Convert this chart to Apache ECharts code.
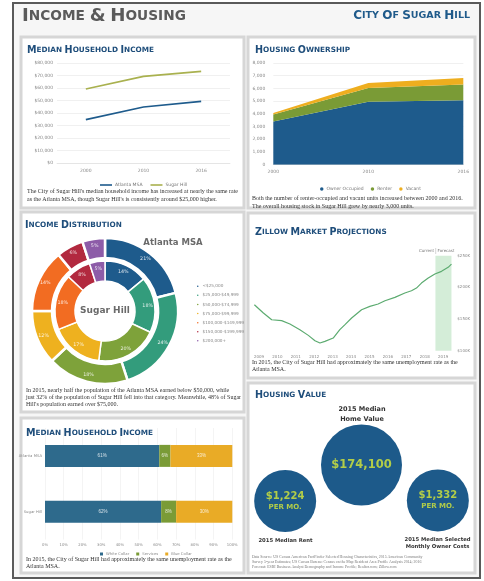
<!DOCTYPE html>
<html><head><meta charset="utf-8">
<script src="https://cdn.jsdelivr.net/npm/echarts@6/dist/echarts.min.js"></script>
<style>html,body{margin:0;padding:0;background:#fff}#c{width:484px;height:581px}</style>
</head><body><div id="c"></div><script>
// ---------- DATA ----------
const incomeYears = ['2000', '2010', '2016'];
const incomeAtlanta = [34700, 44800, 49300];
const incomeSugarHill = [59200, 69300, 73300];

const housingYears = ['2000', '2010', '2016'];
const ownerOccupied = [3400, 4950, 5070];
const renterOccupied = [540, 1090, 1230];
const vacantUnits = [130, 390, 520];

const incomeBrackets = ['<$25,000', '$25,000-$49,999', '$50,000-$74,999', '$75,000-$99,999', '$100,000-$149,999', '$150,000-$199,999', '$200,000+'];
const sugarHillDist = [14, 18, 20, 17, 18, 8, 5];
const atlantaDist = [21, 24, 18, 12, 14, 6, 5];

const workerAreas = ['Atlanta MSA', 'Sugar Hill'];
const workerGroups = ['White Collar', 'Services', 'Blue Collar'];
const whiteCollar = [61, 62];
const services = [6, 8];
const blueCollar = [33, 30];

const zillowYears = [2008.75, 2009.24, 2009.69, 2010.23, 2010.68, 2011.22, 2011.68, 2012.04, 2012.31, 2012.58, 2013.03, 2013.39, 2013.67, 2014.03, 2014.57, 2015.02, 2015.47, 2015.84, 2016.38, 2016.92, 2017.28, 2017.55, 2017.82, 2018.19, 2018.55, 2018.64, 2018.91, 2019.27, 2019.45];
const zillowValues = [172600, 159500, 148900, 147400, 142100, 133200, 124200, 115800, 112100, 114700, 120000, 133200, 141100, 151600, 164700, 170000, 173700, 178900, 184200, 191100, 194700, 198900, 206800, 214700, 221100, 220000, 225300, 231600, 236800];
const zillowYearTicks = [2009, 2010, 2011, 2012, 2013, 2014, 2015, 2016, 2017, 2018, 2019];
const forecastRange = [2018.58, 2019.45];

const housingValueNames = ['2015 Median Rent', '2015 Median Home Value', '2015 Median Selected Monthly Owner Costs'];
const housingValues = [1224, 174100, 1332];

// ---------- STYLE ----------
const BLUE = '#1e5b8c', TEAL = '#339c7c', OLIVE = '#7ea23a', YEL = '#eeb11f', ORG = '#f26c22', RED = '#b2293f', PUR = '#8d5ca8';
const TITLE_BLUE = '#1f4e7b';
const SERIF = '"Liberation Serif", serif';
const SANS = '"DejaVu Sans", sans-serif';
const AX = {fontSize: 4.5, color: '#888', fontFamily: SANS};

function sc(s, big, small, color) {
  const txt = s.split(' ').map(w => w.length === 1 ? '{b|' + w + '}' : '{b|' + w[0].toUpperCase() + '}{s|' + w.slice(1).toUpperCase() + '}').join('{s| }');
  return {text: txt, rich: {
    b: {fontSize: big, fontWeight: 'bold', fontFamily: SANS, fill: color},
    s: {fontSize: small, fontWeight: 'bold', fontFamily: SANS, fill: color}
  }};
}
function ttl(s, x, y, big, small, color, align) {
  const st = sc(s, big, small, color || TITLE_BLUE);
  st.align = align || 'left'; st.verticalAlign = 'middle';
  return {type: 'text', x: x, y: y, z: 100, style: st};
}
function body(lines, x, y, size, lh, color, font) {
  return {type: 'text', x: x, y: y, z: 100, style: {text: lines.join('\n'), fill: color || '#333', font: (size || 6) + 'px ' + (font || SERIF), lineHeight: lh || 7.6, align: 'left', verticalAlign: 'top'}};
}
function panel(x, y, w, h) {
  return {type: 'rect', z: 0, shape: {x: x, y: y, width: w, height: h}, style: {fill: '#fff', stroke: '#d6d6d6', lineWidth: 3}};
}

const graphics = [
  {type: 'rect', z: 0, shape: {x: 13, y: 3, width: 467, height: 575}, style: {fill: '#f6f6f6', stroke: '#5a5a5a', lineWidth: 2}},
  panel(21, 37, 223, 171), panel(248, 37, 227, 171),
  panel(21, 212, 223, 200), panel(21, 418, 223, 155),
  panel(248, 213, 227, 165), panel(248, 383, 227, 190),
  ttl('Income & Housing', 22, 16, 18.2, 13.7, '#5a5a5a'),
  ttl('City of sugar hill', 470, 16, 12, 9.5, '#1f5a8a', 'right'),
  ttl('Median Household Income', 27, 50, 9.6, 7.3),
  ttl('Housing Ownership', 255, 50, 9.6, 7.3),
  ttl('Income Distribution', 25, 225, 9.6, 7.3),
  ttl('Median Household Income', 26, 433, 9.6, 7.3),
  ttl('Zillow Market Projections', 255, 232, 9.6, 7.3),
  ttl('Housing Value', 255, 395, 9.6, 7.3),
  body(["The City of Sugar Hill's median household income has increased at nearly the same rate", "as the Atlanta MSA, though Sugar Hill's is consistently around $25,000 higher."], 27, 188),
  body(["Both the number of renter-occupied and vacant units increased between 2000 and 2016.", "The overall housing stock in Sugar Hill grew by nearly 3,000 units."], 252, 195),
  body(["In 2015, nearly half the population of the Atlanta MSA earned below $50,000, while", "just 32% of the population of Sugar Hill fell into that category. Meanwhile, 48% of Sugar", "Hill's population earned over $75,000."], 26, 387, 6, 6.8),
  body(["In 2015, the City of Sugar Hill had approximately the same unemployment rate as the", "Atlanta MSA."], 26, 556, 6, 6.8),
  body(["In 2015, the City of Sugar Hill had approximately the same unemployment rate as the", "Atlanta MSA."], 252, 359, 6, 6.8),
  body(["Data Source: US Census American FactFinder Selected Housing Characteristics, 2015 American Community", "Survey 5-year Estimates; US Census Bureau: Census on the Map Resident Area Profile Analysis 2014; 2016", "Forecast: ESRI Business Analyst Demography and Income Profile; Realtor.com; Zillow.com"], 252, 554, 3.9, 5, '#777'),
  {type: 'text', x: 105, y: 311, z: 100, style: {text: 'Sugar Hill', font: 'bold 9px ' + SANS, fill: '#6a6a6a', align: 'center', verticalAlign: 'middle'}},
  {type: 'text', x: 173, y: 243, z: 100, style: {text: 'Atlanta MSA', font: 'bold 8.5px ' + SANS, fill: '#6a6a6a', align: 'center', verticalAlign: 'middle'}},
  {type: 'text', x: 434, y: 251, z: 100, style: {text: 'Current', font: '4px ' + SANS, fill: '#777', align: 'right', verticalAlign: 'middle'}},
  {type: 'text', x: 437.5, y: 251, z: 100, style: {text: 'Forecast', font: '4px ' + SANS, fill: '#777', align: 'left', verticalAlign: 'middle'}},
  {type: 'line', z: 100, shape: {x1: 435.7, y1: 248, x2: 435.7, y2: 254}, style: {stroke: '#aaa', lineWidth: 0.5}},
  {type: 'text', x: 362, y: 414.5, z: 100, style: {text: '2015 Median\nHome Value', font: 'bold 6.5px ' + SANS, lineHeight: 10, fill: '#333', align: 'center', verticalAlign: 'middle'}},
  {type: 'text', x: 285.5, y: 541, z: 100, style: {text: housingValueNames[0], font: 'bold 5.3px ' + SANS, fill: '#333', align: 'center', verticalAlign: 'middle'}},
  {type: 'text', x: 437.5, y: 543.5, z: 100, style: {text: '2015 Median Selected\nMonthly Owner Costs', font: 'bold 5.3px ' + SANS, lineHeight: 7, fill: '#333', align: 'center', verticalAlign: 'middle'}}
];

const splitL = {show: true, lineStyle: {color: '#e6e6e6', width: 0.6}};
const noLine = {show: false};

const option = {
  animation: false,
  backgroundColor: '#fff',
  graphic: {elements: graphics},
  grid: [
    {left: 57, right: 254, top: 63, bottom: 418},
    {left: 273.3, right: 20.7, top: 63, bottom: 416.3},
    {left: 45, right: 251.7, top: 428, bottom: 41.5},
    {left: 254, right: 30.7, top: 255.7, bottom: 230.3},
    {left: 247, right: 8, top: 435.6, bottom: 61.8}
  ],
  xAxis: [
    {gridIndex: 0, type: 'category', data: incomeYears, boundaryGap: true, axisLine: {lineStyle: {color: '#ddd', width: 0.6}}, axisTick: noLine, axisLabel: Object.assign({margin: 5}, AX)},
    {gridIndex: 1, type: 'category', data: housingYears, boundaryGap: false, axisLine: {lineStyle: {color: '#ccc', width: 0.6}}, axisTick: noLine, axisLabel: Object.assign({margin: 5}, AX)},
    {gridIndex: 2, type: 'value', min: 0, max: 100, interval: 10, axisLine: noLine, axisTick: noLine, splitLine: {show: true, lineStyle: {color: '#ededed', width: 0.6}}, axisLabel: Object.assign({margin: 3.5, formatter: v => v + '%'}, AX, {fontSize: 3.8})},
    {gridIndex: 3, type: 'value', min: 2008.73, max: 2019.55, axisLine: noLine, axisTick: noLine, splitLine: noLine, axisLabel: Object.assign({margin: 4, customValues: zillowYearTicks, formatter: v => String(Math.round(v))}, AX, {fontSize: 4})},
    {gridIndex: 4, type: 'category', data: housingValueNames, show: false}
  ],
  yAxis: [
    {gridIndex: 0, type: 'value', min: 0, max: 80000, interval: 10000, axisLine: noLine, axisTick: noLine, splitLine: splitL, axisLabel: Object.assign({margin: 4, formatter: v => '$' + v.toLocaleString('en-US')}, AX)},
    {gridIndex: 1, type: 'value', min: 0, max: 8000, interval: 1000, axisLine: noLine, axisTick: noLine, splitLine: splitL, axisLabel: Object.assign({margin: 8, formatter: v => v.toLocaleString('en-US')}, AX)},
    {gridIndex: 2, type: 'category', data: workerAreas, inverse: true, axisLine: noLine, axisTick: noLine, axisLabel: Object.assign({margin: 3}, AX, {fontSize: 3.8})},
    {gridIndex: 3, type: 'value', position: 'right', min: 100000, max: 250000, interval: 50000, axisLine: noLine, axisTick: noLine, splitLine: noLine, axisLabel: Object.assign({margin: 4, formatter: v => '$' + (v / 1000) + 'K'}, AX, {fontSize: 4})},
    {gridIndex: 4, type: 'log', logBase: 10, min: 100, max: 10000000, show: false}
  ],
  legend: [
    {data: ['Atlanta MSA', 'Sugar Hill'], left: 95, top: 177.5, icon: 'rect', itemWidth: 12, itemHeight: 1.6, itemGap: 8, textStyle: {fontSize: 4.5, color: '#777', fontFamily: SANS, padding: [0, 0, 0, -2]}},
    {data: ['Owner Occupied', 'Renter', 'Vacant'], left: 315, top: 181.5, icon: 'circle', itemWidth: 3.5, itemHeight: 3.5, itemGap: 7, textStyle: {fontSize: 4.5, color: '#777', fontFamily: SANS, padding: [0, 0, 0, -2]}},
    {data: incomeBrackets, orient: 'vertical', left: 190, top: 278.5, icon: 'circle', itemWidth: 3.5, itemHeight: 3.5, itemGap: 3.6, textStyle: {fontSize: 4.2, color: '#888', fontFamily: SANS, padding: [0, 0, 0, -2]}},
    {data: workerGroups, left: 95, top: 547, icon: 'rect', itemWidth: 3, itemHeight: 3, itemGap: 7, textStyle: {fontSize: 3.8, color: '#888', fontFamily: SANS, padding: [0, 0, 0, -2]}}
  ],
  series: [
    {name: 'Atlanta MSA', type: 'line', xAxisIndex: 0, yAxisIndex: 0, data: incomeAtlanta, symbol: 'none', color: BLUE, lineStyle: {width: 1.6}},
    {name: 'Sugar Hill', type: 'line', xAxisIndex: 0, yAxisIndex: 0, data: incomeSugarHill, symbol: 'none', color: '#a9b14f', lineStyle: {width: 1.6}},
    {name: 'Owner Occupied', type: 'line', stack: 'h', xAxisIndex: 1, yAxisIndex: 1, data: ownerOccupied, symbol: 'none', color: BLUE, lineStyle: {width: 0}, areaStyle: {opacity: 1}},
    {name: 'Renter', type: 'line', stack: 'h', xAxisIndex: 1, yAxisIndex: 1, data: renterOccupied, symbol: 'none', color: '#7a9b36', lineStyle: {width: 0}, areaStyle: {opacity: 1}},
    {name: 'Vacant', type: 'line', stack: 'h', xAxisIndex: 1, yAxisIndex: 1, data: vacantUnits, symbol: 'none', color: '#eeae1f', lineStyle: {width: 0}, areaStyle: {opacity: 1}},
    {name: 'SH ring', type: 'pie', center: [105, 311], radius: [30, 50], startAngle: 90, clockwise: true, color: [BLUE, TEAL, OLIVE, YEL, ORG, RED, PUR],
      itemStyle: {borderColor: '#fff', borderWidth: 1.5},
      label: {position: 'inside', formatter: '{c}%', fontSize: 4.8, color: 'rgba(255,255,255,0.85)', fontFamily: SANS}, labelLine: noLine,
      data: incomeBrackets.map((n, i) => ({name: n, value: sugarHillDist[i]}))},
    {name: 'MSA ring', type: 'pie', center: [105, 311], radius: [53, 73], startAngle: 90, clockwise: true, color: [BLUE, TEAL, OLIVE, YEL, ORG, RED, PUR],
      itemStyle: {borderColor: '#fff', borderWidth: 2.5},
      label: {position: 'inside', formatter: '{c}%', fontSize: 4.8, color: 'rgba(255,255,255,0.85)', fontFamily: SANS}, labelLine: noLine,
      data: incomeBrackets.map((n, i) => ({name: n, value: atlantaDist[i]}))},
    {name: 'White Collar', type: 'bar', stack: 'w', xAxisIndex: 2, yAxisIndex: 2, barWidth: 22, data: whiteCollar, color: '#2e6a8c', label: {show: true, formatter: '{c}%', fontSize: 4.5, color: 'rgba(255,255,255,0.8)'}},
    {name: 'Services', type: 'bar', stack: 'w', xAxisIndex: 2, yAxisIndex: 2, barWidth: 22, data: services, color: '#7a9b36', label: {show: true, formatter: '{c}%', fontSize: 4.5, color: 'rgba(255,255,255,0.8)'}},
    {name: 'Blue Collar', type: 'bar', stack: 'w', xAxisIndex: 2, yAxisIndex: 2, barWidth: 22, data: blueCollar, color: '#e9ab26', label: {show: true, formatter: '{c}%', fontSize: 4.5, color: 'rgba(255,255,255,0.8)'}},
    {name: 'Zillow', type: 'line', xAxisIndex: 3, yAxisIndex: 3, symbol: 'none', color: '#5cab70', lineStyle: {width: 1.2},
      data: zillowYears.map((y, i) => [y, zillowValues[i]]),
      markArea: {silent: true, itemStyle: {color: '#d4edd8'}, data: [[{xAxis: forecastRange[0]}, {xAxis: forecastRange[1]}]]}},
    {name: 'Housing Value', type: 'scatter', xAxisIndex: 4, yAxisIndex: 4, color: '#1d5a8a', itemStyle: {opacity: 1},
      symbolSize: (v, p) => p.dataIndex === 1 ? 81 : 62,
      data: housingValues.map((v, i) => [housingValueNames[i], v]),
      label: {show: true, position: 'inside', fontFamily: SANS,
        formatter: p => p.dataIndex === 1 ? '{big|$' + p.value[1].toLocaleString('en-US') + '}' : '{mid|$' + p.value[1].toLocaleString('en-US') + '}\n{per|PER MO.}',
        rich: {big: {fontSize: 11.5, fontWeight: 'bold', color: '#b2cd48', fontFamily: SANS},
               mid: {fontSize: 10, fontWeight: 'bold', color: '#b2cd48', fontFamily: SANS, lineHeight: 12},
               per: {fontSize: 7, fontWeight: 'bold', color: '#b2cd48', fontFamily: SANS, lineHeight: 9}}}}
  ]
};
const chart = echarts.init(document.getElementById('c'), null, {renderer: 'canvas'});
chart.setOption(option);
</script></body></html>
